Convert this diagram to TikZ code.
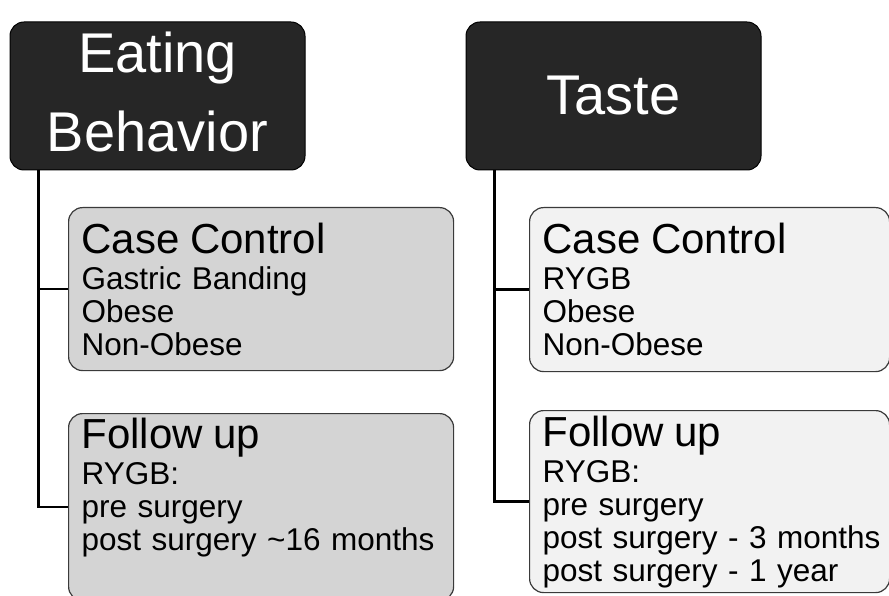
\documentclass[tikz,border=0pt]{standalone}
\usepackage{fontspec}
\setmainfont{Liberation Sans}
\usetikzlibrary{calc,positioning}
\definecolor{headfill}{HTML}{262626}
\definecolor{leftfill}{HTML}{D4D4D4}
\definecolor{rightfill}{HTML}{F2F2F2}
\definecolor{boxline}{HTML}{3A3A3A}
\newcommand{\grptitle}[1]{{\fontsize{42}{44}\selectfont #1}\\[3pt]}

\begin{document}
\begin{tikzpicture}[x=1pt,y=-1pt,
  head/.style={draw=black,fill=headfill,rounded corners=14pt,line width=1pt,text=white,align=center,minimum width=295pt,minimum height=148pt,font=\fontsize{56}{79}\selectfont},
  group/.style={draw=boxline,rounded corners=14pt,line width=1.2pt,anchor=north west,align=left,inner xsep=13pt,inner ysep=4pt,font=\fontsize{31.5}{33}\selectfont},
  link/.style={draw=black,line width=2.5pt}]
\useasboundingbox (0,0) rectangle (889,596);
\clip (0,0) rectangle (889,596);
\node [head,text depth=8pt] (EatHead) at (157.5,96) {Eating\\Behavior};
\node [head] (TasteHead) at (613.5,96) {Taste};
\node [group,fill=leftfill,minimum width=385pt,text width=359pt,minimum height=163pt] (EatCase) at (68,207) {\grptitle{Case Control}Gastric Banding\\Obese\\Non-Obese};
\node [group,fill=leftfill,minimum width=385pt,text width=359pt,minimum height=187pt] (EatFollow) at (68,413) {\grptitle{Follow up}RYGB:\\pre surgery\\\mbox{post surgery \textasciitilde16 months}\rule[-45pt]{0pt}{45pt}};
\node [group,fill=rightfill,minimum width=360pt,text width=334pt,minimum height=164pt] (TasteCase) at (529,207) {\grptitle{Case Control}RYGB\\Obese\\Non-Obese};
\node [group,fill=rightfill,minimum width=360pt,text width=334pt,minimum height=182pt] (TasteFollow) at (529,410) {\grptitle{Follow up}RYGB:\\pre surgery\\\mbox{post surgery - 3 months}\\\mbox{post surgery - 1 year}};
\draw [link] ($(EatHead.south west)+(29,0)$) |- (EatCase.west);
\draw [link] ($(EatHead.south west)+(29,0)$) |- (EatFollow.west);
\draw [link] ($(TasteHead.south west)+(29,0)$) |- (TasteCase.west);
\draw [link] ($(TasteHead.south west)+(29,0)$) |- (TasteFollow.west);
\end{tikzpicture}
\end{document}
